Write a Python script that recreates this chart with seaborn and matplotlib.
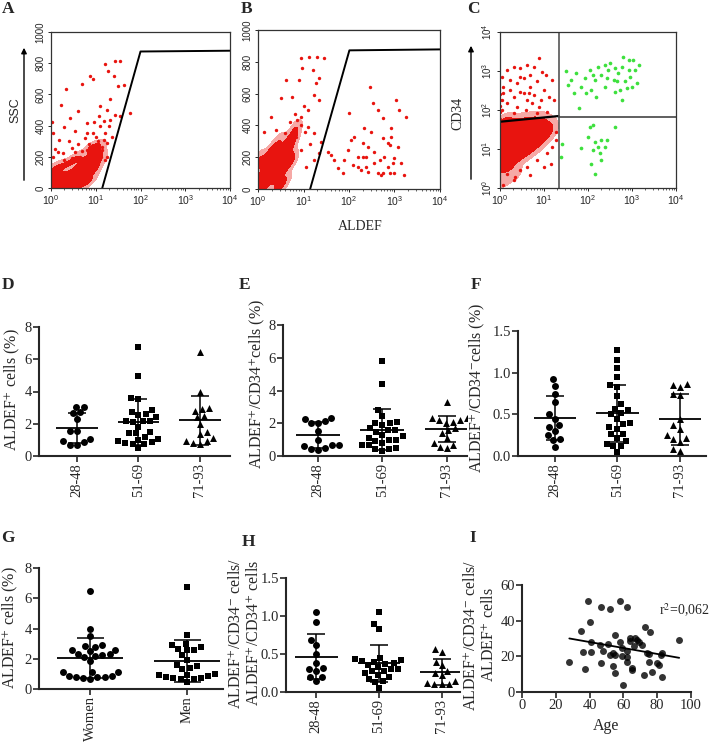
import numpy as np
import pandas as pd
import matplotlib
matplotlib.use("Agg")
import matplotlib.pyplot as plt
from matplotlib.colors import ListedColormap
from matplotlib.patches import FancyArrowPatch
import seaborn as sns

sns.set_style("ticks")
plt.rcParams["font.family"] = ["Liberation Serif", "DejaVu Serif"]
plt.rcParams["mathtext.fontset"] = "stix"

W, H = 709, 751
RED = "#e8140f"
PINK = "#f6a9a6"
GREEN = "#3de03d"

# ---------------------------------------------------------------
# flow cytometry panels
# ---------------------------------------------------------------
A_core_x = [1.03, 1.23, 1.46, 1.73, 2.24, 2.9, 3.76, 4.86, 5.77, 6.85, 8.13, 9.66, 10.5, 11.5,
            1.13, 1.34, 1.89, 2.66, 3.76, 5.3, 6.3, 7.5, 8.9, 4.45, 3.16, 8.9, 12.5, 5.3, 4.1,
            1.05, 1.5, 2.2, 3.0, 4.0, 1.2, 2.0, 3.0, 4.5, 6.0, 7.5, 9.0, 10.5, 6.0, 8.0]
A_core_y = [17, 39, 28, 50, 32, 50, 60, 71, 93, 114, 147, 179, 222, 266,
            71, 93, 82, 93, 104, 125, 158, 179, 212, 50, 24, 255, 201, 179, 136,
            120, 140, 150, 170, 200, 8, 10, 12, 20, 30, 60, 110, 150, 100, 260]
A_dots_x = [16.2, 27, 34, 19, 25, 7.5, 8.9, 2.2, 4.9, 1.7, 21, 32, 43, 58, 35, 27, 17.6, 12.5,
            4.1, 2.7, 6.3, 1.1, 1.5, 2.9, 1.9, 4.5, 8.9, 12.5, 14.9, 21, 5.8, 3.4, 1.1, 1.3,
            6.3, 13.6, 17.6, 9.6, 3.8, 1.2, 2.0, 3.0, 5.0, 7, 10, 11, 14, 16, 20, 23, 2.5,
            1.05, 3.5, 6.5, 9, 12, 15, 18, 13, 11, 16, 4, 2, 1.4, 8]
A_dots_y = [795, 816, 816, 750, 720, 720, 700, 633, 665, 535, 568, 654, 659, 482, 460, 470, 503, 525,
            492, 449, 417, 352, 309, 255, 222, 201, 352, 395, 309, 438, 320, 363, 201, 136,
            244, 244, 201, 136, 136, 250, 180, 190, 240, 280, 330, 300, 260, 350, 400, 330, 300,
            420, 230, 350, 420, 460, 430, 290, 200, 160, 180, 280, 390, 230, 240]
A_gate_x = [14, 100, 10000]
A_gate_y = [0, 875, 880]

B_core_x = [1.05, 1.25, 1.48, 1.75, 2.25, 1.9, 2.45, 2.9, 3.45, 4.1, 4.8, 5.7, 6.2, 6.75,
            3.1, 3.7, 4.35, 5.2, 1.15, 1.36, 1.6, 2.07, 2.67, 3.7, 4.8,
            1.05, 1.05, 1.4, 1.8, 2.2, 2.5, 3.2, 4.0, 5.5, 1.3, 2.0, 3.0]
B_core_y = [25, 46, 40, 67, 57, 99, 120, 151, 182, 214, 256, 298, 340, 382,
            99, 130, 161, 203, 78, 99, 130, 161, 203, 266, 308,
            150, 190, 180, 210, 250, 12, 20, 60, 180, 8, 230, 300]
B_dots_x = [8.7, 13.3, 20.3, 28.6, 9.5, 15.8, 22, 18.7, 8.0, 5.7, 17.2, 3.2, 4.1, 1.9, 1.36,
            2.45, 12.3, 22, 8.7, 12.3, 17.2, 24, 22, 8.7, 17.2, 11.2, 33.7, 1.05, 2.67,
            7.35, 6.5, 9, 10, 11, 5, 7, 4, 3, 14,
            40, 56, 72, 102, 110, 120, 155, 183, 200, 217, 235, 260, 300, 290, 330, 360, 430,
            470, 510, 550, 600, 710, 780, 840, 915, 1000, 1080, 1170, 1390, 1580, 1800, 1260,
            430, 550, 710, 840, 200, 130, 93, 78, 260, 360, 550, 780, 1000, 235, 155, 47]
B_dots_y = [822, 832, 828, 822, 759, 748, 696, 665, 685, 581, 591, 570, 685, 455, 360,
            371, 497, 560, 455, 392, 350, 298, 224, 245, 182, 140, 235, 78, 182,
            434, 470, 400, 520, 360, 420, 330, 350, 260, 280,
            214, 130, 99, 476, 308, 151, 203, 120, 203, 382, 203, 109, 361, 644, 539, 235, 99,
            182, 88, 319, 203, 140, 277, 382, 161, 193, 560, 266, 161, 88, 455, 497,
            497, 444, 287, 329, 287, 329, 245, 182, 266, 161, 99, 99, 99, 140, 140, 182]
B_gate_x = [14, 102, 10000]
B_gate_y = [0, 872, 878]

C_core_x = [1.09, 1.09, 1.09, 1.09, 1.56, 1.56, 1.56, 2.2, 2.2, 3.16, 3.16, 4.5, 4.5, 6.4,
            8.4, 11.9, 1.3, 1.86, 2.65, 3.8, 5.4, 7.7, 1.09, 1.3,
            1.2, 1.8, 2.6, 3.6, 5.0, 7.0, 9.5, 13, 2.0, 1.05]
C_core_y = [3.5, 7.7, 16.9, 33.7, 6.3, 13.8, 27.6, 9.3, 20.5, 11.4, 25, 17, 30, 20.5,
            27.6, 25, 4.2, 5.2, 6.9, 8.4, 11.4, 15.3, 1.6, 45,
            40, 42, 44, 46, 48, 50, 45, 35, 2.5, 25]
C_red_x = [1.43, 2.03, 2.9, 4.1, 5.9, 7.7, 9.1, 1.7, 2.4, 3.45, 4.9, 7.0, 10, 1.19, 2.03, 2.9,
           4.1, 5.9, 8.4, 13, 1.43, 2.4, 3.8, 5.4, 7.7, 11.9, 1.09, 1.7, 2.9, 4.5, 10.9, 15.6,
           17, 1.09, 1.09, 1.19, 3.45, 4.9, 2.03, 7.0, 1.02, 1.02, 1.02, 1.02, 1.02, 1.02,
           1.43, 2.03, 2.9, 4.1, 7.0, 11.9, 15.6, 18.5, 10, 4.9, 1.19, 2.2, 14.3, 18.5]
C_red_y = [1070, 1300, 1200, 1440, 1300, 2140, 970, 590, 490, 660, 400, 540, 330, 270, 220, 295,
           180, 245, 180, 220, 150, 122, 100, 150, 122, 90, 720, 330, 720, 270, 800, 590,
           180, 100, 180, 400, 270, 800, 82, 82, 40, 60, 90, 130, 180, 250,
           2.3, 1.58, 2.85, 3.5, 5.2, 7.7, 11.4, 17, 3.5, 2.1, 1.17, 1.92, 4.2, 27.6]
C_green_x = [31.6, 41, 54, 70, 84, 110, 120, 142, 170, 200, 240, 290, 315, 380, 410, 490, 590,
             640, 700, 840, 920, 1080, 1190, 1420, 1300, 590, 64, 49, 35, 92, 156, 270, 450,
             760, 540, 240, 410, 840, 990, 130,
             110, 130, 100, 142, 130, 170, 200, 240, 265, 185, 120, 142, 70, 410, 200, 24, 26]
C_green_y = [975, 590, 880, 400, 650, 1070, 330, 590, 1300, 800, 400, 1070, 1590, 590, 295, 880,
             1300, 2350, 540, 1070, 720, 1940, 1070, 1440, 490, 180, 110, 270, 440, 270, 220,
             650, 540, 360, 330, 1440, 1200, 1940, 400, 800,
             37, 41, 20.5, 15.3, 9.3, 11.4, 17, 11.4, 17, 7.7, 4.2, 2.3, 10.3, 37, 5.2, 6.3, 13.8]
C_diag_x = [1, 21.4]
C_diag_y = [50, 70]
C_vert_x = 21.4
C_horiz_y = 67

# ---------------------------------------------------------------
# dot plots
# ---------------------------------------------------------------
age_groups = ["28-48", "51-69", "71-93"]
sexes = ["Women", "Men"]

D_vals = {
    "28-48": [3.05, 3.05, 2.7, 2.65, 2.3, 1.55, 1.55, 1.05, 0.9, 0.85, 0.7, 0.7],
    "51-69": [6.75, 4.95, 3.6, 3.55, 2.85, 2.75, 2.6, 2.55, 2.4, 2.2, 2.2, 2.15, 2.1, 1.8,
              1.5, 1.45, 1.4, 1.2, 1.05, 1.0, 0.95, 0.85, 0.8, 0.75, 0.75, 0.5],
    "71-93": [6.45, 3.95, 2.95, 2.9, 2.8, 2.5, 2.4, 2.0, 1.5, 1.35, 1.1, 0.95, 0.9, 0.8, 0.75],
}
E_vals = {
    "28-48": [2.35, 2.25, 2.15, 2.0, 2.0, 1.5, 0.95, 0.7, 0.65, 0.6, 0.5, 0.45, 0.35],
    "51-69": [5.8, 4.4, 2.8, 2.45, 2.05, 2.0, 2.0, 1.9, 1.7, 1.6, 1.6, 1.45, 1.3, 1.2, 1.1,
              1.0, 0.95, 0.9, 0.8, 0.7, 0.65, 0.5, 0.45, 0.4, 0.3],
    "71-93": [3.3, 2.35, 2.3, 2.2, 2.2, 2.1, 2.0, 1.7, 1.6, 1.4, 1.1, 0.8, 0.7, 0.55, 0.5],
}
F_vals = {
    "28-48": [0.92, 0.84, 0.75, 0.65, 0.5, 0.45, 0.37, 0.35, 0.3, 0.25, 0.2, 0.19, 0.11],
    "51-69": [1.27, 1.15, 1.06, 0.95, 0.85, 0.83, 0.72, 0.62, 0.57, 0.55, 0.52, 0.5, 0.45,
              0.4, 0.38, 0.35, 0.33, 0.27, 0.27, 0.22, 0.18, 0.15, 0.12, 0.12, 0.05],
    "71-93": [0.86, 0.85, 0.83, 0.75, 0.73, 0.45, 0.37, 0.33, 0.25, 0.22, 0.2, 0.17, 0.08, 0.06],
}
G_vals = {
    "Women": [6.45, 4.0, 3.5, 2.9, 2.85, 2.8, 2.6, 2.55, 2.5, 2.3, 2.3, 2.25, 2.2, 2.1, 1.85,
              1.1, 1.1, 1.1, 0.85, 0.85, 0.8, 0.8, 0.8, 0.7, 0.65],
    "Men": [6.75, 3.55, 3.0, 2.9, 2.75, 2.65, 2.6, 2.55, 2.25, 1.95, 1.6, 1.5, 1.4, 1.3, 1.0,
            0.95, 0.9, 0.85, 0.8, 0.75, 0.7, 0.65, 0.65, 0.45],
}
H_vals = {
    "28-48": [1.05, 0.92, 0.68, 0.62, 0.5, 0.38, 0.32, 0.3, 0.28, 0.2, 0.2, 0.15],
    "51-69": [1.05, 0.9, 0.83, 0.45, 0.43, 0.42, 0.41, 0.4, 0.38, 0.37, 0.35, 0.33, 0.3, 0.3,
              0.28, 0.27, 0.25, 0.22, 0.2, 0.17, 0.15, 0.13, 0.05],
    "71-93": [0.56, 0.53, 0.4, 0.35, 0.28, 0.25, 0.22, 0.15, 0.12, 0.1, 0.1, 0.1],
}
I_age = [28, 35, 36, 37, 39, 40, 41, 41, 47, 47, 48, 46, 52, 51, 52, 54, 54, 55, 55, 55,
         58, 58, 59, 59, 60, 62, 62, 62, 62, 64, 64, 65, 65, 66, 67, 68, 69, 71, 72, 73,
         74, 75, 75, 76, 77, 80, 81, 82, 83, 83, 93]
I_ratio = [16.8, 34.0, 22.3, 12.8, 51.2, 39.3, 28.0, 22.3, 47.6, 16.1, 22.9, 26.2, 46.3, 26.9,
           21.0, 21.8, 14.8, 20.7, 10.6, 32.0, 51.0, 28.0, 24.9, 20.1, 4.2, 47.6, 23.0, 19.8,
           16.6, 30.5, 28.5, 13.7, 12.4, 25.8, 30.4, 29.4, 28.0, 26.5, 9.7, 36.2, 21.6, 21.2,
           16.6, 33.8, 11.0, 16.1, 15.2, 21.0, 21.6, 8.6, 29.0]
r2_text = "r$^2$=0,062"


def rect(l, t, r, b):
    return [l / W, 1 - b / H, (r - l) / W, (b - t) / H]


fig = plt.figure(figsize=(W / 100, H / 100), dpi=100)


# ---------------------------------------------------------------
# flow panels
# ---------------------------------------------------------------
def style_flow(ax, ylog):
    for s in ax.spines.values():
        s.set_visible(True)
        s.set_linewidth(0.9)
        s.set_color("#333333")
    ax.set_xscale("log")
    ax.set_xlim(1, 1e4)
    ax.set_xticks([1, 10, 100, 1000, 10000])
    if ylog:
        ax.set_yscale("log")
        ax.set_ylim(1, 1e4)
        ax.set_yticks([1, 10, 100, 1000, 10000])
    else:
        ax.set_ylim(0, 1000)
        ax.set_yticks([0, 200, 400, 600, 800, 1000])
    ax.tick_params(which="major", labelsize=7.5, length=2.5, width=0.7, pad=1.5)
    ax.tick_params(axis="y", labelsize=7)
    ax.tick_params(which="minor", length=1.5, width=0.5)
    ax.tick_params(axis="y", which="minor", left=False)
    ax.set_xlabel("")
    ax.set_ylabel("")
    for lbl in ax.get_yticklabels():
        lbl.set_rotation(90)
        lbl.set_va("center")
        lbl.set_fontfamily("Liberation Sans")
    for lbl in ax.get_xticklabels():
        lbl.set_fontfamily("Liberation Sans")


def core_cloud(ax, xs, ys, logy):
    # dense population: light halo + solid core
    core = pd.DataFrame({"x": xs, "y": ys})
    sns.kdeplot(data=core, x="x", y="y", ax=ax, log_scale=(True, logy), fill=True,
                levels=[0.03, 0.2, 1], cmap=ListedColormap([PINK, RED]),
                bw_adjust=0.65, cut=6, gridsize=250)


axA = fig.add_axes(rect(51, 32, 230, 188))
core_cloud(axA, A_core_x, A_core_y, False)
sns.scatterplot(x=A_dots_x, y=A_dots_y, ax=axA, color=RED, s=6, linewidth=0)
axA.plot(A_gate_x, A_gate_y, color="black", lw=1.4)
style_flow(axA, False)

axB = fig.add_axes(rect(258, 30, 440, 189))
core_cloud(axB, B_core_x, B_core_y, False)
sns.scatterplot(x=B_dots_x, y=B_dots_y, ax=axB, color=RED, s=6, linewidth=0)
axB.plot(B_gate_x, B_gate_y, color="black", lw=1.4)
style_flow(axB, False)

axC = fig.add_axes(rect(500, 32, 676, 188))
core_cloud(axC, C_core_x, C_core_y, True)
sns.scatterplot(x=C_red_x, y=C_red_y, ax=axC, color=RED, s=6, linewidth=0)
sns.scatterplot(x=C_green_x, y=C_green_y, ax=axC, color=GREEN, s=7, linewidth=0)
axC.plot(C_diag_x, C_diag_y, color="black", lw=1.6)
axC.axvline(C_vert_x, color="#555555", lw=1.2)
axC.plot([C_vert_x, 1e4], [C_horiz_y, C_horiz_y], color="#444444", lw=1.2)
style_flow(axC, True)

fig.text(15 / W, 1 - 110 / H, "SSC", rotation=90, ha="center", va="center",
         fontsize=9, family="Liberation Sans")
fig.text(458 / W, 1 - 113 / H, "CD34", rotation=90, ha="center", va="center", fontsize=10)
fig.text(360 / W, 1 - 226 / H, "ALDEF", ha="center", va="center", fontsize=10)
for ax_x, y0, y1 in [(24, 183, 45), (471, 182, 43)]:
    fig.add_artist(FancyArrowPatch((ax_x / W, 1 - y0 / H), (ax_x / W, 1 - y1 / H),
                                   transform=fig.transFigure, arrowstyle="-|>",
                                   mutation_scale=8, lw=1.0, color="black"))


# ---------------------------------------------------------------
# scatter dot plots with mean +/- SD
# ---------------------------------------------------------------
def dotplot(box, vals, cats, markers, ylim, yticks, xlim, ylabel, label_pos):
    ax = fig.add_axes(rect(*box))
    df = pd.DataFrame([(c, v) for c in cats for v in vals[c]], columns=["group", "value"])
    for cat, m in zip(cats, markers):
        sns.swarmplot(data=df[df["group"] == cat], x="group", y="value", order=cats,
                      marker=m, color="black", size=5, ax=ax)
    stats = df.groupby("group")["value"].agg(["mean", "std"]).reindex(cats)
    for i, (mu, sd) in enumerate(stats.values):
        ax.hlines(mu, i - 0.34, i + 0.34, color="black", lw=1.3)
        ax.vlines(i, mu - sd, mu + sd, color="black", lw=1.1)
        ax.hlines([mu - sd, mu + sd], i - 0.14, i + 0.14, color="black", lw=1.1)
    ax.set_xlim(*xlim)
    ax.set_ylim(*ylim)
    ax.set_yticks(yticks)
    ax.set_xticks(range(len(cats)))
    ax.set_xticklabels(cats, rotation=90)
    sns.despine(ax=ax)
    for s in ["left", "bottom"]:
        ax.spines[s].set_linewidth(1.5)
    ax.tick_params(labelsize=10.5, length=4, width=1.2, pad=1)
    ax.set_xlabel("")
    ax.set_ylabel(ylabel, fontsize=11.5)
    ax.yaxis.set_label_coords(label_pos[0] / W, 1 - label_pos[1] / H,
                              transform=fig.transFigure)
    return ax


tri = ["o", "s", "^"]
dotplot((39, 327, 230, 456), D_vals, age_groups, tri, (0, 8), [0, 2, 4, 6, 8],
        (-0.62, 2.49), "ALDEF$^{+}$ cells (%)", (22, 390))
dotplot((283, 325, 467, 456), E_vals, age_groups, tri, (0, 8), [0, 2, 4, 6, 8],
        (-0.54, 2.31), "ALDEF$^{+}$/CD34$^{+}$cells (%)", (267, 384))
axF = dotplot((518, 331, 706, 456), F_vals, age_groups, tri, (0, 1.5), [0.0, 0.5, 1.0, 1.5],
              (-0.59, 2.42), "ALDEF$^{+}$/CD34$^{-}$cells (%)", (487, 388))
axF.set_yticklabels(["0.0", "0.5", "1.0", "1.5"])
dotplot((39, 568, 223, 689), G_vals, sexes, ["o", "s"], (0, 8), [0, 2, 4, 6, 8],
        (-0.53, 1.37), "ALDEF$^{+}$ cells (%)", (20, 628))
axH = dotplot((286, 578, 460, 692), H_vals, age_groups, tri, (0, 1.5), [0.0, 0.5, 1.0, 1.5],
              (-0.48, 2.29), "ALDEF$^{+}$/CD34$^{-}$ cells/\nALDEF$^{+}$/CD34$^{+}$ cells",
              (262, 633))
axH.set_yticklabels(["0.0", "0.5", "1.0", "1.5"])

# regression panel
axI = fig.add_axes(rect(522, 585, 691, 692))
sns.regplot(x=I_age, y=I_ratio, ax=axI, ci=None, color="black",
            scatter_kws={"s": 25, "linewidths": 0}, line_kws={"lw": 1.3})
axI.set_xlim(0, 100)
axI.set_ylim(0, 60)
axI.set_xticks([0, 20, 40, 60, 80, 100])
axI.set_yticks([0, 20, 40, 60])
sns.despine(ax=axI)
for s in ["left", "bottom"]:
    axI.spines[s].set_linewidth(1.5)
axI.tick_params(labelsize=10.5, length=4, width=1.2, pad=1)
axI.set_xlabel("Age", fontsize=11.5, labelpad=4)
axI.set_ylabel("ALDEF$^{+}$/CD34$^{-}$ cells/\nALDEF$^{+}$ cells", fontsize=11.5)
axI.yaxis.set_label_coords(497 / W, 1 - 635 / H, transform=fig.transFigure)
axI.text(81, 46, r2_text, fontsize=10, va="center")

# panel letters
for letter, x, y in [("A", 8, 9), ("B", 247, 9), ("C", 473, 9), ("D", 8, 285), ("E", 245, 285),
                     ("F", 476, 285), ("G", 8, 538), ("H", 248, 542), ("I", 473, 538)]:
    fig.text(x / W, 1 - y / H, letter, fontsize=12.5, fontweight="bold", ha="center", va="center")

fig.savefig("out.png", dpi=100)
